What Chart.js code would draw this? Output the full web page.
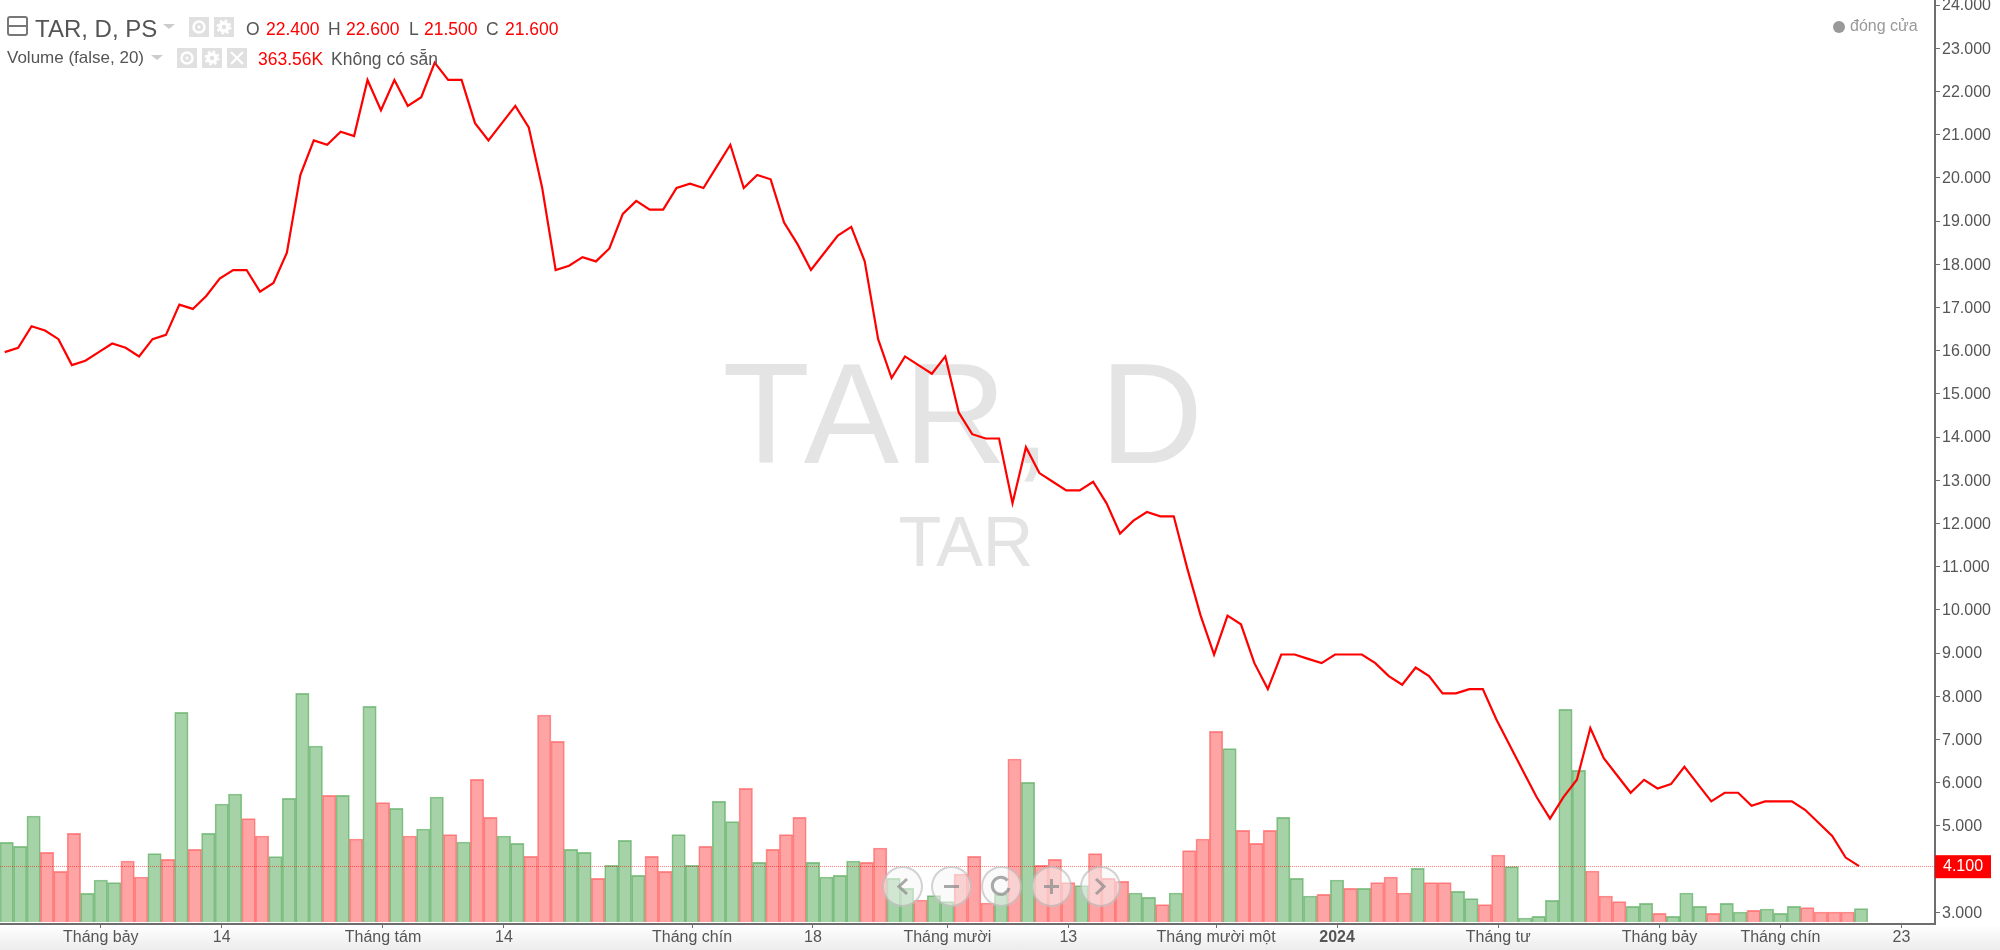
<!DOCTYPE html>
<html>
<head>
<meta charset="utf-8">
<script src="https://cdn.jsdelivr.net/npm/chart.js@4"></script>
<style>
  body { margin: 0; background: #fff; font-family: "Liberation Sans", sans-serif; overflow: hidden; }
  #wrap { position: relative; width: 2000px; height: 950px; }
  #footer { position: absolute; left: 0; top: 925px; width: 2000px; height: 25px; background: linear-gradient(#ffffff, #ececec); }
  canvas { position: absolute; left: 0; top: 0; }
  .t { position: absolute; white-space: nowrap; color: #555; line-height: 20px; font-size: 17.5px; }
  .red { color: #ff0000; }
  .box { position: absolute; width: 20px; height: 20px; background: #e0e0e0; }
  .box svg, .nav svg { display: block; }
  .tri { position: absolute; width: 0; height: 0; border-left: 6px solid transparent; border-right: 6px solid transparent; border-top: 5px solid #ccc; }
  .nav { position: absolute; top: 866px; width: 37px; height: 37px; border-radius: 50%; background: rgba(245,245,245,0.55); border: 2px solid rgba(150,150,150,0.4); }
  .nav path { stroke: rgba(140,140,140,0.75); }
</style>
</head>
<body>
<div id="wrap">
  <div id="footer"></div>
  <canvas id="myChart" width="2000" height="950"></canvas>

  <div style="position:absolute;left:7px;top:16px;width:17px;height:16px;border:2px solid #777;border-radius:3px;">
    <div style="position:absolute;left:0;right:0;top:7px;height:2px;background:#777;"></div>
  </div>
  <span class="t" style="left:35px;top:15px;font-size:24px;line-height:28px;">TAR, D, PS</span>
  <div class="tri" style="left:163px;top:24px;"></div>
  <div class="box" style="left:189px;top:17px;"><svg width="20" height="20"><circle cx="10" cy="10" r="5.5" fill="none" stroke="#fff" stroke-width="2.5"/><circle cx="10" cy="10" r="1.5" fill="#fff"/></svg></div>
  <div class="box" style="left:214px;top:17px;"><svg width="20" height="20"><circle cx="10" cy="10" r="4" fill="none" stroke="#fff" stroke-width="3.5"/><circle cx="10" cy="10" r="6.5" fill="none" stroke="#fff" stroke-width="2" stroke-dasharray="2.5 2.6"/></svg></div>
  <span class="t" style="left:246px;top:19px;">O</span><span class="t red" style="left:266px;top:19px;">22.400</span>
  <span class="t" style="left:328px;top:19px;">H</span><span class="t red" style="left:346px;top:19px;">22.600</span>
  <span class="t" style="left:409px;top:19px;">L</span><span class="t red" style="left:424px;top:19px;">21.500</span>
  <span class="t" style="left:486px;top:19px;">C</span><span class="t red" style="left:505px;top:19px;">21.600</span>

  <span class="t" style="left:7px;top:48px;font-size:17px;">Volume (false, 20)</span>
  <div class="tri" style="left:151px;top:55px;"></div>
  <div class="box" style="left:177px;top:48px;"><svg width="20" height="20"><circle cx="10" cy="10" r="5.5" fill="none" stroke="#fff" stroke-width="2.5"/><circle cx="10" cy="10" r="1.5" fill="#fff"/></svg></div>
  <div class="box" style="left:202px;top:48px;"><svg width="20" height="20"><circle cx="10" cy="10" r="4" fill="none" stroke="#fff" stroke-width="3.5"/><circle cx="10" cy="10" r="6.5" fill="none" stroke="#fff" stroke-width="2" stroke-dasharray="2.5 2.6"/></svg></div>
  <div class="box" style="left:227px;top:48px;"><svg width="20" height="20"><path d="M4 4L16 16M16 4L4 16" stroke="#fff" stroke-width="2.2"/></svg></div>
  <span class="t red" style="left:258px;top:49px;">363.56K</span>
  <span class="t" style="left:331px;top:49px;">Không có sẵn</span>

  <div style="position:absolute;left:1833px;top:21px;width:12px;height:12px;border-radius:50%;background:#999;"></div>
  <span class="t" style="left:1850px;top:16px;font-size:16px;color:#999;">đóng cửa</span>

  <div class="nav" style="left:882px;"><svg width="37" height="37"><path d="M23 11L15 18.5L23 26" fill="none" stroke-width="3"/></svg></div>
  <div class="nav" style="left:931px;"><svg width="37" height="37"><path d="M11 18.5H26" stroke-width="3"/></svg></div>
  <div class="nav" style="left:981px;"><svg width="37" height="37"><path d="M24.5 12.5A8.5 8.5 0 1 0 26 20" fill="none" stroke-width="3"/></svg></div>
  <div class="nav" style="left:1031px;"><svg width="37" height="37"><path d="M11 18.5H26M18.5 11V26" stroke-width="3"/></svg></div>
  <div class="nav" style="left:1080px;"><svg width="37" height="37"><path d="M14 11L22 18.5L14 26" fill="none" stroke-width="3"/></svg></div>
</div>

<script>
// close price, one per session
const closes = [
  16.0, 16.1, 16.6, 16.5, 16.3, 15.7, 15.8, 16.0, 16.2, 16.1, 15.9, 16.3, 16.4, 17.1, 17.0, 17.3, 17.7, 17.9, 17.9, 17.4,
  17.6, 18.3, 20.1, 20.9, 20.8, 21.1, 21.0, 22.3, 21.6, 22.3, 21.7, 21.9, 22.7, 22.3, 22.3, 21.3, 20.9, 21.3, 21.7, 21.2,
  19.8, 17.9, 18.0, 18.2, 18.1, 18.4, 19.2, 19.5, 19.3, 19.3, 19.8, 19.9, 19.8, 20.3, 20.8, 19.8, 20.1, 20.0, 19.0, 18.5,
  17.9, 18.3, 18.7, 18.9, 18.1, 16.3, 15.4, 15.9, 15.7, 15.5, 15.9, 14.6, 14.1, 14.0, 14.0, 12.5, 13.8, 13.2, 13.0, 12.8,
  12.8, 13.0, 12.5, 11.8, 12.1, 12.3, 12.2, 12.2, 11.0, 9.9, 9.0, 9.9, 9.7, 8.8, 8.2, 9.0, 9.0, 8.9, 8.8, 9.0,
  9.0, 9.0, 8.8, 8.5, 8.3, 8.7, 8.5, 8.1, 8.1, 8.2, 8.2, 7.5, 6.9, 6.3, 5.7, 5.2, 5.7, 6.1, 7.3, 6.6,
  6.2, 5.8, 6.1, 5.9, 6.0, 6.4, 6.0, 5.6, 5.8, 5.8, 5.5, 5.6, 5.6, 5.6, 5.4, 5.1, 4.8, 4.3, 4.1
];

// volume in thousands
const volumes = [
  2151, 2043, 2862, 1881, 1368, 2394, 774, 1134, 1062, 1647, 1215, 1845, 1692, 5661, 1962, 2394, 3186, 3456, 2790, 2322,
  1764, 3339, 6174, 4752, 3420, 3420, 2241, 5823, 3222, 3069, 2322, 2511, 3375, 2358, 2160, 3852, 2826, 2322, 2124, 1773,
  5589, 4878, 1962, 1881, 1179, 1530, 2205, 1260, 1773, 1368, 2358, 1530, 2043, 3258, 2709, 3609, 1611, 1962, 2358, 2826,
  1611, 1215, 1260, 1647, 1611, 1998, 1179, 909, 594, 711, 549, 1296, 1773, 513, 747, 4401, 3771, 1530, 1692, 1062,
  981, 1845, 1179, 1098, 783, 666, 468, 783, 1926, 2241, 5148, 4680, 2475, 2124, 2475, 2826, 1179, 702, 747, 1134,
  909, 909, 1062, 1215, 783, 1449, 1062, 1062, 828, 630, 468, 1809, 1494, 108, 153, 585, 5742, 4095, 1377, 702,
  549, 423, 504, 234, 153, 783, 423, 234, 504, 270, 315, 351, 234, 423, 387, 270, 270, 270, 363
];

// g = up day, r = down day
const volumeSides = [
  "gggrrrgggrrgrgrgggrrggggrgrgrgrggrgrr",
  "ggrrrggrgggrrggrggrgrrrggggrrggrggrrrg",
  "rgrrrgrrrggrgrrrgrrrgggrgrgrrrgrrggrr",
  "ggggggrrrggrgggrggrgggrrrrg",
].join("").split("");

const categoryCount = 144;
const xTickIndex = [7, 16, 28, 37, 51, 60, 70, 79, 90, 99, 111, 123, 132, 141];
const xTickLabels = ["Tháng bảy", "14", "Tháng tám", "14", "Tháng chín", "18", "Tháng mười", "13", "Tháng mười một", "2024", "Tháng tư", "Tháng bảy", "Tháng chín", "23"];
const priceTicks = [3, 5, 6, 7, 8, 9, 10, 11, 12, 13, 14, 15, 16, 17, 18, 19, 20, 21, 22, 23, 24];
const lastPrice = 4.1;

const categories = new Array(categoryCount).fill("");
xTickIndex.forEach((idx, i) => { categories[idx] = xTickLabels[i]; });

const GREEN = "rgba(76, 165, 80, 0.5)";
const GREEN_EDGE = "rgba(76, 165, 80, 0.62)";
const RED = "rgba(255, 74, 74, 0.5)";
const RED_EDGE = "rgba(255, 60, 60, 0.56)";
const TEXT = "#555555";
const AXIS = "#6e6e6e";
const FONT = "'Liberation Sans', sans-serif";

// watermark under the marks
const watermark = {
  id: "watermark",
  beforeDatasetsDraw(chart) {
    const c = chart.ctx;
    c.save();
    c.fillStyle = "#e4e4e4";
    c.textAlign = "center";
    c.textBaseline = "alphabetic";
    c.letterSpacing = "4.5px";
    c.font = "143px " + FONT;
    c.fillText("TAR, D", 965, 463);
    c.letterSpacing = "0px";
    c.font = "70px " + FONT;
    c.fillText("TAR", 966, 566);
    c.restore();
  },
};

// last price line and its red label on the axis
const lastPriceMark = {
  id: "lastPriceMark",
  afterDraw(chart) {
    const c = chart.ctx;
    const y = chart.scales.yl.getPixelForValue(lastPrice);
    const area = chart.chartArea;
    c.save();
    c.strokeStyle = "rgba(255, 0, 0, 0.5)";
    c.lineWidth = 1;
    c.setLineDash([1, 1]);
    c.beginPath();
    c.moveTo(0, Math.floor(y) + 0.5);
    c.lineTo(area.right, Math.floor(y) + 0.5);
    c.stroke();
    c.fillStyle = "#ff0000";
    c.fillRect(area.right, y - 11, 56, 23);
    c.fillStyle = "#fff";
    c.font = "16px " + FONT;
    c.textAlign = "left";
    c.textBaseline = "middle";
    c.fillText(lastPrice.toFixed(3), area.right + 8, y);
    c.restore();
  },
};

new Chart(document.getElementById("myChart"), {
  data: {
    labels: categories,
    datasets: [
      {
        type: "line",
        order: 0,
        data: closes.map((v, i) => ({ x: i, y: v })),
        xAxisID: "xl",
        yAxisID: "yl",
        borderColor: "#ff0000",
        borderWidth: 2.2,
        pointRadius: 0,
        tension: 0,
      },
      {
        type: "bar",
        order: 1,
        data: volumes,
        xAxisID: "x",
        yAxisID: "v",
        grouped: false,
        backgroundColor: volumeSides.map((s) => (s === "g" ? GREEN : RED)),
        borderColor: volumeSides.map((s) => (s === "g" ? GREEN_EDGE : RED_EDGE)),
        borderWidth: 1,
        barPercentage: 1,
        categoryPercentage: 1,
      },
    ],
  },
  options: {
    responsive: false,
    animation: false,
    layout: { padding: 0 },
    plugins: { legend: { display: false }, tooltip: { enabled: false } },
    scales: {
      x: {
        type: "category",
        offset: true,
        position: "bottom",
        afterBuildTicks(scale) {
          scale.ticks = scale.ticks.filter((t) => categories[t.value] !== "");
        },
        afterFit(scale) {
          scale.height = 26;
          scale.paddingLeft = 0;
          scale.paddingRight = 0;
        },
        grid: { drawOnChartArea: false, offset: false, tickLength: 4, color: AXIS, tickWidth: 1 },
        border: { color: AXIS, width: 2 },
        ticks: {
          autoSkip: false,
          maxRotation: 0,
          padding: 0,
          color: TEXT,
          font: (ctx) => ({ family: FONT, size: 16, weight: ctx.tick && ctx.tick.label === "2024" ? "bold" : "normal" }),
        },
      },
      // the line sits slightly off the bar centres and the axis ticks in the source chart
      xl: { type: "linear", display: false, min: -0.35, max: 143.65 },
      yl: { type: "linear", display: false, min: 2.762, max: 24.151 },
      y: {
        type: "linear",
        position: "right",
        min: 2.727,
        max: 24.116,
        afterBuildTicks(scale) { scale.ticks = priceTicks.map((v) => ({ value: v })); },
        afterFit(scale) {
          scale.width = 65;
          scale.paddingTop = 0;
          scale.paddingBottom = 0;
        },
        grid: { drawOnChartArea: false, tickLength: 5, color: AXIS },
        border: { color: AXIS, width: 2 },
        ticks: {
          padding: 2,
          labelOffset: 1,
          color: TEXT,
          font: { family: FONT, size: 16 },
          callback: (v) => v.toFixed(3),
        },
      },
      v: { type: "linear", display: false, min: -54, max: 24894 },
    },
  },
  plugins: [watermark, lastPriceMark],
});
</script>
</body>
</html>
